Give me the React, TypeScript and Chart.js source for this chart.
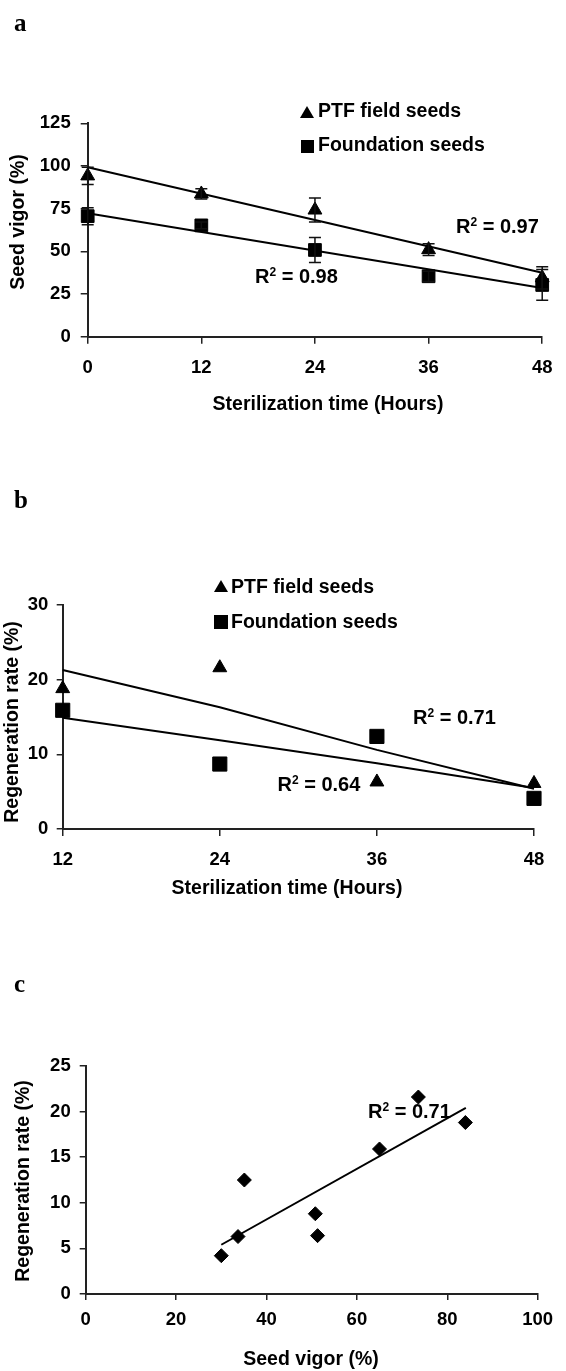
import React, { useEffect, useRef } from "react";
import { Chart, registerables } from "chart.js";
Chart.register(...registerables);

// ---------- Panel a: seed vigor vs sterilization time ----------
const hoursA = [0, 12, 24, 36, 48];
const ptfVigor = [94.2, 83.6, 74.2, 51.0, 34.5];
const ptfVigorErr = [5, 3, 7, 3.5, 6.5];
const foundationVigor = [70.6, 65.2, 50.8, 35.4, 30.3];
const foundationVigorErr = [5, 2, 7.3, 3, 9];
const trendAX = [0, 48];
const ptfVigorTrend = [99.2, 37.5];
const foundationVigorTrend = [72.3, 28.5];
const vigorTicksA = [0, 25, 50, 75, 100, 125];
const hourTicksA = [0, 12, 24, 36, 48];

// ---------- Panel b: regeneration rate vs sterilization time ----------
const hoursB = [12, 24, 36, 48];
const ptfRegen = [18.8, 21.6, 6.3, 6.1];
const foundationRegen = [15.9, 8.7, 12.4, 4.1];
const ptfRegenTrend = [21.3, 16.3, 10.6, 5.4];
const foundationRegenTrend = [14.9, 11.9, 8.8, 5.5];
const regenTicksB = [0, 10, 20, 30];
const hourTicksB = [12, 24, 36, 48];

// ---------- Panel c: regeneration rate vs seed vigor ----------
const vigorC = [30.0, 33.7, 35.1, 50.8, 51.3, 65.0, 73.6, 84.0];
const regenC = [4.2, 6.3, 12.5, 8.8, 6.4, 15.9, 21.6, 18.8];
const trendCX = [30.0, 84.1];
const trendCY = [5.4, 20.4];
const regenTicksC = [0, 5, 10, 15, 20, 25];
const vigorTicksC = [0, 20, 40, 60, 80, 100];

const seriesNames = ["PTF field seeds", "Foundation seeds"];

const FONT = "'Liberation Sans', Arial, Helvetica, sans-serif";
const SERIF = "'Liberation Serif', 'Times New Roman', serif";

const errorBarPlugin = {
  id: "errorBars",
  afterDatasetsDraw(chart: any) {
    const { ctx, scales } = chart;
    const x = scales.x;
    const y = scales.y;
    chart.data.datasets.forEach((ds: any) => {
      if (!ds.errors) return;
      ctx.save();
      ctx.strokeStyle = "#111";
      ctx.lineWidth = 1.5;
      ds.data.forEach((p: any, j: number) => {
        const e = ds.errors[j];
        const px = x.getPixelForValue(p.x);
        const yt = y.getPixelForValue(p.y + e);
        const yb = y.getPixelForValue(p.y - e);
        ctx.beginPath();
        ctx.moveTo(px, yt);
        ctx.lineTo(px, yb);
        ctx.moveTo(px - 6, yt);
        ctx.lineTo(px + 6, yt);
        ctx.moveTo(px - 6, yb);
        ctx.lineTo(px + 6, yb);
        ctx.stroke();
      });
      ctx.restore();
    });
  },
};

function axis(o: {
  min: number;
  max: number;
  ticks: number[];
  size: number;
  horizontal: boolean;
  tickLength: number;
  padding: number;
}) {
  return {
    type: "linear",
    min: o.min,
    max: o.max,
    afterBuildTicks: (a: any) => {
      a.ticks = o.ticks.map((v) => ({ value: v }));
    },
    ticks: {
      color: "#000",
      font: { family: FONT, size: 18.5, weight: "bold" },
      padding: o.padding,
      autoSkip: false,
      maxRotation: 0,
      minRotation: 0,
    },
    grid: {
      display: true,
      drawOnChartArea: false,
      drawTicks: true,
      tickLength: o.tickLength,
      color: "#222",
      lineWidth: 1.5,
    },
    border: { display: true, color: "#222", width: 2 },
    afterFit: (a: any) => {
      if (o.horizontal) a.height = o.size;
      else a.width = o.size;
    },
  };
}

const pts = (xs: number[], ys: number[]) => xs.map((x, i) => ({ x, y: ys[i] }));

const markerDs = (label: string, data: any[], style: string, r: number, errors?: number[]) => ({
  label,
  data,
  errors,
  pointStyle: style,
  pointRadius: r,
  pointHoverRadius: r,
  backgroundColor: "#000",
  borderColor: "#000",
  pointBorderWidth: 1,
  showLine: false,
  clip: false,
});

const trendDs = (data: any[]) => ({
  label: "trend",
  data,
  showLine: true,
  pointRadius: 0,
  borderColor: "#000",
  borderWidth: 2,
  clip: false,
});

function baseOptions(padding: any, x: any, y: any) {
  return {
    responsive: false,
    animation: false,
    events: [],
    layout: { padding },
    plugins: { legend: { display: false }, tooltip: { enabled: false } },
    scales: { x, y },
  };
}

function buildA() {
  return {
    type: "scatter",
    data: {
      datasets: [
        markerDs(seriesNames[1], pts(hoursA, foundationVigor), "rect", 9, foundationVigorErr),
        markerDs(seriesNames[0], pts(hoursA, ptfVigor), "triangle", 8, ptfVigorErr),
        trendDs(pts(trendAX, ptfVigorTrend)),
        trendDs(pts(trendAX, foundationVigorTrend)),
      ],
    },
    options: baseOptions(
      { left: 0, right: 12.7, top: 123.3, bottom: 440 - 336.7 - 60 },
      axis({ min: 0, max: 48, ticks: hourTicksA, size: 60, horizontal: true, tickLength: 7, padding: 13.5 }),
      axis({ min: 0, max: 125, ticks: vigorTicksA, size: 87.7, horizontal: false, tickLength: 7, padding: 10 })
    ),
    plugins: [errorBarPlugin],
  };
}

function buildB() {
  return {
    type: "scatter",
    data: {
      datasets: [
        markerDs(seriesNames[1], pts(hoursB, foundationRegen), "rect", 10),
        markerDs(seriesNames[0], pts(hoursB, ptfRegen), "triangle", 8),
        trendDs(pts(hoursB, ptfRegenTrend)),
        trendDs(pts(hoursB, foundationRegenTrend)),
      ],
    },
    options: baseOptions(
      { left: 0, right: 32, top: 135, bottom: 440 - 359 - 60 },
      axis({ min: 12, max: 48, ticks: hourTicksB, size: 60, horizontal: true, tickLength: 7, padding: 13 }),
      axis({ min: 0, max: 30, ticks: regenTicksB, size: 62.7, horizontal: false, tickLength: 6, padding: 8.4 })
    ),
  };
}

function buildC() {
  return {
    type: "scatter",
    data: {
      datasets: [
        markerDs("Seed vigor vs regeneration", pts(vigorC, regenC), "rectRot", 7),
        trendDs(pts(trendCX, trendCY)),
      ],
    },
    options: baseOptions(
      { left: 0, right: 28.3, top: 116, bottom: 421 - 344 - 60 },
      axis({ min: 0, max: 100, ticks: vigorTicksC, size: 60, horizontal: true, tickLength: 6, padding: 9 }),
      axis({ min: 0, max: 25, ticks: regenTicksC, size: 85.7, horizontal: false, tickLength: 6, padding: 9 })
    ),
  };
}

function ChartCanvas({ top, height, build }: { top: number; height: number; build: () => any }) {
  const ref = useRef<HTMLCanvasElement>(null);
  useEffect(() => {
    const chart = new Chart(ref.current as HTMLCanvasElement, build() as any);
    return () => chart.destroy();
  }, []);
  return (
    <canvas
      ref={ref}
      width={566}
      height={height}
      style={{ position: "absolute", left: 0, top, width: 566, height, display: "block" }}
    />
  );
}

const sans: any = {
  position: "absolute",
  fontFamily: FONT,
  fontWeight: 700,
  fontSize: 19.5,
  lineHeight: 1,
  color: "#000",
  whiteSpace: "nowrap",
};

function Letter({ left, top, ch }: { left: number; top: number; ch: string }) {
  return (
    <div style={{ position: "absolute", left, top, fontFamily: SERIF, fontWeight: 700, fontSize: 25, lineHeight: 1, color: "#000" }}>
      {ch}
    </div>
  );
}

function R2({ left, top, value }: { left: number; top: number; value: string }) {
  return (
    <div style={{ ...sans, left, top, fontSize: 20 }}>
      R<span style={{ fontSize: 12, position: "relative", top: -7 }}>2</span> = {value}
    </div>
  );
}

function XTitle({ cx, top, text }: { cx: number; top: number; text: string }) {
  return <div style={{ ...sans, left: cx - 200, width: 400, top, textAlign: "center" }}>{text}</div>;
}

function YTitle({ cx, cy, text }: { cx: number; cy: number; text: string }) {
  return (
    <div style={{ position: "absolute", left: cx, top: cy, width: 0, height: 0 }}>
      <div style={{ ...sans, left: 0, top: 0, transform: "translate(-50%, -50%) rotate(-90deg)" }}>{text}</div>
    </div>
  );
}

function Triangle({ left, top }: { left: number; top: number }) {
  return (
    <div
      style={{
        position: "absolute",
        left,
        top,
        width: 0,
        height: 0,
        borderLeft: "7.5px solid transparent",
        borderRight: "7.5px solid transparent",
        borderBottom: "12px solid #000",
      }}
    />
  );
}

function Square({ left, top, size }: { left: number; top: number; size: number }) {
  return <div style={{ position: "absolute", left, top, width: size, height: size, background: "#000" }} />;
}

export default function App() {
  return (
    <div style={{ position: "absolute", left: 0, top: 0, width: 566, height: 1371, overflow: "hidden", background: "#fff" }}>
      <ChartCanvas top={0} height={440} build={buildA} />
      <ChartCanvas top={470} height={440} build={buildB} />
      <ChartCanvas top={950} height={421} build={buildC} />

      {/* Panel a */}
      <Letter left={14} top={9.8} ch="a" />
      <Triangle left={300} top={106} />
      <div style={{ ...sans, left: 318, top: 100.8 }}>{seriesNames[0]}</div>
      <Square left={301} top={140} size={13} />
      <div style={{ ...sans, left: 318, top: 135.2 }}>{seriesNames[1]}</div>
      <R2 left={456} top={215.7} value="0.97" />
      <R2 left={255} top={265.7} value="0.98" />
      <XTitle cx={328} top={393.5} text="Sterilization time (Hours)" />
      <YTitle cx={18} cy={221.7} text="Seed vigor (%)" />

      {/* Panel b */}
      <Letter left={14} top={487} ch="b" />
      <Triangle left={214} top={580} />
      <div style={{ ...sans, left: 231, top: 576.5 }}>{seriesNames[0]}</div>
      <Square left={214} top={615} size={14} />
      <div style={{ ...sans, left: 231, top: 611.5 }}>{seriesNames[1]}</div>
      <R2 left={413} top={707.4} value="0.71" />
      <R2 left={277.5} top={774} value="0.64" />
      <XTitle cx={287} top={877.5} text="Sterilization time (Hours)" />
      <YTitle cx={12} cy={721.5} text="Regeneration rate (%)" />

      {/* Panel c */}
      <Letter left={14} top={970.8} ch="c" />
      <R2 left={368} top={1100.7} value="0.71" />
      <XTitle cx={311} top={1348.5} text="Seed vigor (%)" />
      <YTitle cx={23} cy={1181} text="Regeneration rate (%)" />
    </div>
  );
}
